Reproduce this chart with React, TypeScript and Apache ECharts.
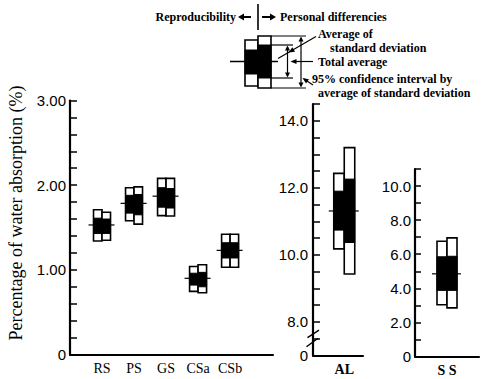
import React, { useEffect, useRef } from 'react';
import * as echarts from 'echarts';

// ---------- data ----------
const mainCategories = ['RS', 'PS', 'GS', 'CSa', 'CSb'];
const mainMeans = [1.53, 1.785, 1.87, 0.9, 1.23];
// each entry: [CI low, SD low, SD high, CI high]
const mainReproducibility = [
  [1.34, 1.43, 1.61, 1.71],
  [1.58, 1.67, 1.88, 1.97],
  [1.64, 1.74, 1.97, 2.08],
  [0.745, 0.82, 0.96, 1.04],
  [1.03, 1.14, 1.32, 1.42],
];
const mainPersonal = [
  [1.35, 1.43, 1.6, 1.68],
  [1.54, 1.65, 1.89, 1.98],
  [1.635, 1.73, 1.96, 2.08],
  [0.73, 0.8, 0.97, 1.06],
  [1.03, 1.14, 1.32, 1.42],
];

const alCategories = ['AL'];
const alMeans = [11.31];
const alReproducibility = [[10.18, 10.74, 11.9, 12.43]];
const alPersonal = [[9.43, 10.37, 12.26, 13.2]];

const ssCategories = ['S S'];
const ssMeans = [4.85];
const ssReproducibility = [[3.04, 3.88, 5.85, 6.76]];
const ssPersonal = [[2.85, 3.88, 5.88, 6.96]];

const mainLabelTicks = [0, 1, 2, 3];
const alLabelTicks = [8, 10, 12, 14];
const alBreakValue = 7; // shown as "0" below the axis break
const ssLabelTicks = [0, 2, 4, 6, 8, 10];

const yTitle = 'Percentage of water absorption (%)';

// ---------- helpers ----------
const BLACK = '#000';
const near = (v: number, list: number[]) => list.some((t) => Math.abs(t - v) < 1e-6);

function buildData(means: number[], repro: number[][], pers: number[][]) {
  return means.map((m, i) => [i + 1, m, ...repro[i], ...pers[i]]);
}

function makeRenderItem(colW: number) {
  return (params: any, api: any) => {
    const xv = api.value(0);
    const c = api.coord([xv, api.value(1)]);
    const children: any[] = [];
    [2, 6].forEach((start, i) => {
      const x0 = i === 0 ? c[0] - colW : c[0];
      const yHi = api.coord([xv, api.value(start + 3)])[1];
      const yLo = api.coord([xv, api.value(start)])[1];
      const ySdHi = api.coord([xv, api.value(start + 2)])[1];
      const ySdLo = api.coord([xv, api.value(start + 1)])[1];
      children.push({
        type: 'rect',
        shape: { x: x0, y: yHi, width: colW, height: yLo - yHi },
        style: { fill: '#fff', stroke: BLACK, lineWidth: 1.6 },
      });
      children.push({
        type: 'rect',
        shape: { x: x0, y: ySdHi, width: colW, height: ySdLo - ySdHi },
        style: { fill: BLACK, stroke: BLACK, lineWidth: 1 },
      });
    });
    children.push({
      type: 'line',
      shape: { x1: c[0] - colW - 5, y1: c[1], x2: c[0] + colW + 4, y2: c[1] },
      style: { stroke: BLACK, lineWidth: 1.2 },
    });
    return { type: 'group', children };
  };
}

const line = (x1: number, y1: number, x2: number, y2: number, w = 1.2) => ({
  type: 'line',
  shape: { x1, y1, x2, y2 },
  style: { stroke: BLACK, lineWidth: w },
  silent: true,
});

function head(tx: number, ty: number, dx: number, dy: number, len = 5, half = 2.3) {
  const n = Math.hypot(dx, dy);
  const ux = dx / n;
  const uy = dy / n;
  const bx = tx - ux * len;
  const by = ty - uy * len;
  return {
    type: 'polygon',
    shape: {
      points: [
        [tx, ty],
        [bx - uy * half, by + ux * half],
        [bx + uy * half, by - ux * half],
      ],
    },
    style: { fill: BLACK },
    silent: true,
  };
}

const LEGEND_FONT = 'bold 12px "Liberation Serif", "Times New Roman", serif';
const txt = (text: string, x: number, y: number, align = 'left') => ({
  type: 'text',
  x,
  y,
  style: { text, font: LEGEND_FONT, fill: BLACK, align, verticalAlign: 'middle', lineHeight: 12 },
  silent: true,
});

function legendGraphics() {
  const g: any[] = [];
  // header
  g.push(txt('Reproducibility', 236, 17, 'right'));
  g.push(line(251, 17, 242, 17, 2));
  g.push(head(238, 17, -1, 0, 6, 3.5));
  g.push(line(258, 4, 258, 30, 1.6));
  g.push(line(262, 17, 271, 17, 2));
  g.push(head(276, 17, 1, 0, 6, 3.5));
  g.push(txt('Personal differencies', 280, 17));
  // schematic columns
  g.push({ type: 'rect', shape: { x: 245, y: 40, width: 13, height: 46 }, style: { fill: '#fff', stroke: BLACK, lineWidth: 1.6 } });
  g.push({ type: 'rect', shape: { x: 245, y: 50, width: 13, height: 24 }, style: { fill: BLACK, stroke: BLACK, lineWidth: 1 } });
  g.push({ type: 'rect', shape: { x: 258, y: 36, width: 13, height: 52 }, style: { fill: '#fff', stroke: BLACK, lineWidth: 1.6 } });
  g.push({ type: 'rect', shape: { x: 258, y: 45, width: 13, height: 33 }, style: { fill: BLACK, stroke: BLACK, lineWidth: 1 } });
  g.push(line(230, 61.5, 278, 61.5, 1.3));
  // extension lines
  g.push(line(271, 36, 306, 36));
  g.push(line(271, 88, 306, 88));
  g.push(line(271, 45, 293, 45));
  g.push(line(271, 78, 293, 78));
  // double arrows
  g.push(line(287.5, 47, 287.5, 76));
  g.push(head(287.5, 45.5, 0, -1, 5, 2.5));
  g.push(head(287.5, 77.5, 0, 1, 5, 2.5));
  g.push(line(301, 38, 301, 86));
  g.push(head(301, 36.5, 0, -1, 5, 2.5));
  g.push(head(301, 87.5, 0, 1, 5, 2.5));
  // leaders
  g.push(line(316, 36.5, 278, 58.5));
  g.push(head(288.5, 52.5, -1, 0.58, 6, 2.6));
  g.push(line(292, 61.5, 313, 61.5));
  g.push(head(290.5, 61.5, -1, 0, 6, 2.6));
  g.push(line(313, 85, 304, 79));
  g.push(head(302.5, 78, -1, -0.66, 6, 2.6));
  // texts
  g.push(txt('Average of', 318, 33.5));
  g.push(txt('standard deviation', 330, 47.5));
  g.push(txt('Total average', 318, 62));
  g.push(txt('95% confidence interval by', 312, 79));
  g.push(txt('average of standard deviation', 318, 93));
  // y axis title
  g.push({
    type: 'text',
    x: 16,
    y: 213,
    rotation: Math.PI / 2,
    style: {
      text: yTitle,
      font: '18px "Liberation Serif", "Times New Roman", serif',
      fill: BLACK,
      align: 'center',
      verticalAlign: 'middle',
    },
    silent: true,
  });
  return g;
}

function breakMark(x: number, y: number) {
  return [
    { type: 'rect', shape: { x: x - 2.5, y: y - 3, width: 5, height: 5 }, style: { fill: '#fff' }, silent: true },
    line(x - 5.5, y - 1, x + 6, y - 8.5, 1.5),
    line(x - 6.5, y + 8, x + 5, y - 0.5, 1.5),
  ];
}

const axisLineStyle = { lineStyle: { color: BLACK, width: 2.2 } };
const yTick = { inside: true, length: 7, lineStyle: { color: BLACK, width: 1.5 } };
const numFont = { color: BLACK, fontFamily: '"Liberation Sans", Arial, sans-serif', fontSize: 15 };

function xAxisFor(gridIndex: number, max: number, cats: string[], bold: boolean) {
  return {
    gridIndex,
    type: 'value',
    min: 0,
    max,
    interval: 1,
    axisLine: axisLineStyle,
    axisTick: { show: false },
    splitLine: { show: false },
    axisLabel: {
      formatter: (v: number) => cats[Math.round(v) - 1] ?? '',
      color: BLACK,
      fontFamily: '"Liberation Serif", "Times New Roman", serif',
      fontWeight: bold ? 'bold' : 'normal',
      fontSize: 14,
      margin: 7,
    },
  };
}

export default function App() {
  const ref = useRef<HTMLDivElement>(null);
  useEffect(() => {
    if (!ref.current) return;
    const chart = echarts.init(ref.current, null, { renderer: 'svg' });
    const option: any = {
      animation: false,
      backgroundColor: '#fff',
      grid: [
        { left: 70, top: 100.5, width: 203, height: 254 },
        { left: 313, top: 104, width: 50, height: 251.5 },
        { left: 415, top: 169, width: 64, height: 187.5 },
      ],
      xAxis: [
        xAxisFor(0, 6.34, mainCategories, false),
        xAxisFor(1, 1.6, alCategories, true),
        xAxisFor(2, 2, ssCategories, true),
      ],
      yAxis: [
        {
          gridIndex: 0,
          type: 'value',
          min: 0,
          max: 3,
          interval: 0.2,
          axisLine: { show: true, ...axisLineStyle },
          axisTick: yTick,
          splitLine: { show: false },
          axisLabel: {
            ...numFont,
            margin: 4,
            formatter: (v: number) => (near(v, mainLabelTicks) ? (Math.abs(v) < 1e-6 ? '0' : v.toFixed(2)) : ''),
          },
        },
        {
          gridIndex: 1,
          type: 'value',
          min: 7,
          max: 14.5,
          interval: 0.5,
          axisLine: { show: true, ...axisLineStyle },
          axisTick: yTick,
          splitLine: { show: false },
          axisLabel: {
            ...numFont,
            margin: 5,
            formatter: (v: number) =>
              Math.abs(v - alBreakValue) < 1e-6 ? '0' : near(v, alLabelTicks) ? v.toFixed(1) : '',
          },
        },
        {
          gridIndex: 2,
          type: 'value',
          min: 0,
          max: 11,
          interval: 1,
          axisLine: { show: true, ...axisLineStyle },
          axisTick: { ...yTick, length: 6 },
          splitLine: { show: false },
          axisLabel: {
            ...numFont,
            margin: 4,
            formatter: (v: number) => (near(v, ssLabelTicks) ? (Math.abs(v) < 1e-6 ? '0' : v.toFixed(1)) : ''),
          },
        },
      ],
      series: [
        {
          type: 'custom',
          xAxisIndex: 0,
          yAxisIndex: 0,
          renderItem: makeRenderItem(8.5),
          encode: { x: 0, y: 1 },
          data: buildData(mainMeans, mainReproducibility, mainPersonal),
          clip: false,
        },
        {
          type: 'custom',
          xAxisIndex: 1,
          yAxisIndex: 1,
          renderItem: makeRenderItem(10.5),
          encode: { x: 0, y: 1 },
          data: buildData(alMeans, alReproducibility, alPersonal),
          clip: false,
        },
        {
          type: 'custom',
          xAxisIndex: 2,
          yAxisIndex: 2,
          renderItem: makeRenderItem(10),
          encode: { x: 0, y: 1 },
          data: buildData(ssMeans, ssReproducibility, ssPersonal),
          clip: false,
        },
      ],
    };
    chart.setOption(option);
    const p = chart.convertToPixel({ gridIndex: 1 }, [0, 7.5]) as number[];
    chart.setOption({ graphic: [...legendGraphics(), ...breakMark(p[0], p[1])] });
    return () => chart.dispose();
  }, []);
  return (
    <div
      ref={ref}
      style={{ position: 'fixed', left: 0, top: 0, width: 495, height: 379, background: '#fff' }}
    />
  );
}
